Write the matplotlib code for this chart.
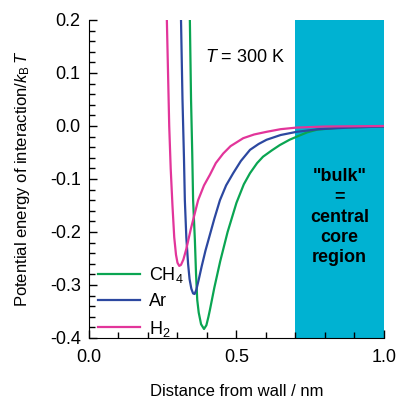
import matplotlib
matplotlib.use("Agg")
import matplotlib.pyplot as plt
from matplotlib.ticker import MultipleLocator

plt.rcParams['font.family'] = ['Liberation Sans', 'DejaVu Sans']
plt.rcParams['mathtext.fontset'] = 'custom'
plt.rcParams['mathtext.rm'] = 'Liberation Sans'
plt.rcParams['mathtext.it'] = 'Liberation Sans:italic'

# potential curves (distance nm, energy / kBT)
x_h2 = [0.264, 0.268, 0.272, 0.277, 0.283, 0.289, 0.295, 0.300, 0.306, 0.312, 0.320, 0.330, 0.345,
        0.37, 0.39, 0.41, 0.43, 0.455, 0.48, 0.523, 0.56, 0.602, 0.65, 0.704, 0.80, 1.0]
y_h2 = [0.20, 0.10, 0.0, -0.08, -0.15, -0.21, -0.243, -0.258, -0.264, -0.262, -0.252, -0.232, -0.195,
        -0.14, -0.112, -0.092, -0.070, -0.052, -0.038, -0.023, -0.016, -0.011, -0.006, -0.003, -0.001, 0.0]

x_ar = [0.312, 0.317, 0.322, 0.325, 0.330, 0.336, 0.341, 0.347, 0.353, 0.358, 0.364, 0.372, 0.382,
        0.395, 0.41, 0.425, 0.444, 0.465, 0.489, 0.515, 0.546, 0.575, 0.602, 0.65, 0.704, 0.78, 0.88, 1.0]
y_ar = [0.20, 0.05, -0.06, -0.14, -0.21, -0.26, -0.289, -0.307, -0.316, -0.317, -0.309, -0.29, -0.265,
        -0.235, -0.205, -0.175, -0.14, -0.112, -0.089, -0.066, -0.045, -0.034, -0.026, -0.017, -0.011, -0.006, -0.003, -0.001]

x_ch4 = [0.342, 0.346, 0.350, 0.353, 0.359, 0.363, 0.367, 0.372, 0.38, 0.39, 0.398, 0.405, 0.41,
         0.425, 0.445, 0.47, 0.50, 0.525, 0.546, 0.57, 0.59, 0.62, 0.647, 0.68, 0.705, 0.74, 0.773, 0.85, 1.0]
y_ch4 = [0.20, 0.05, -0.05, -0.14, -0.215, -0.28, -0.328, -0.352, -0.374, -0.383, -0.376, -0.36, -0.347,
         -0.305, -0.255, -0.20, -0.145, -0.110, -0.089, -0.070, -0.058, -0.046, -0.036, -0.026, -0.020, -0.012, -0.007, -0.003, -0.001]

bulk_start = 0.7
bulk_end = 1.0

fig = plt.figure(figsize=(3.97, 3.99), dpi=100)
ax = fig.add_axes([0.2242, 0.1529, 0.967 - 0.2242, 0.9499 - 0.1529])

ax.axvspan(bulk_start, bulk_end, color='#00b2d2', zorder=0, lw=0)

ax.plot(x_ch4, y_ch4, color='#0aa552', lw=1.6, label='CH$_4$', solid_joinstyle='round')
ax.plot(x_ar, y_ar, color='#2c48a0', lw=1.6, label='Ar', solid_joinstyle='round')
ax.plot(x_h2, y_h2, color='#e2359a', lw=1.6, label='H$_2$', solid_joinstyle='round')

ax.set_xlim(0, 1.0)
ax.set_ylim(-0.4, 0.2)
ax.spines['top'].set_visible(False)
ax.spines['right'].set_visible(False)
ax.xaxis.set_major_locator(MultipleLocator(0.5))
ax.xaxis.set_minor_locator(MultipleLocator(0.1))
ax.yaxis.set_major_locator(MultipleLocator(0.1))
ax.yaxis.set_minor_locator(MultipleLocator(0.02))
ax.xaxis.set_major_formatter(lambda v, p: f'{v:.1f}')
ax.yaxis.set_major_formatter(lambda v, p: f'{v:.1f}')
ax.tick_params(which='both', direction='in', labelsize=13)
ax.tick_params(which='major', length=6, width=1)
ax.tick_params(which='minor', length=4, width=1)
ax.tick_params(axis='x', pad=8)
ax.tick_params(axis='y', pad=6)

ax.set_xlabel('Distance from wall / nm', fontsize=12, labelpad=13)
ax.set_ylabel('Potential energy of interaction/$k_\\mathrm{B}\\,T$', fontsize=12, labelpad=13)

ax.text(0.393, 0.13, '$T$ = 300 K', fontsize=13, ha='left', va='center')
ax.text(0.85, -0.172, '"bulk"\n=\ncentral\ncore\nregion', fontsize=13,
        fontweight='bold', ha='center', va='center', linespacing=1.25)

ax.legend(loc='lower left', bbox_to_anchor=(0.0, -0.03), frameon=False,
          fontsize=13, handlelength=2.3, handletextpad=0.5, labelspacing=0.45,
          borderpad=0.3, borderaxespad=0.2)

fig.savefig('out.png', dpi=100)
